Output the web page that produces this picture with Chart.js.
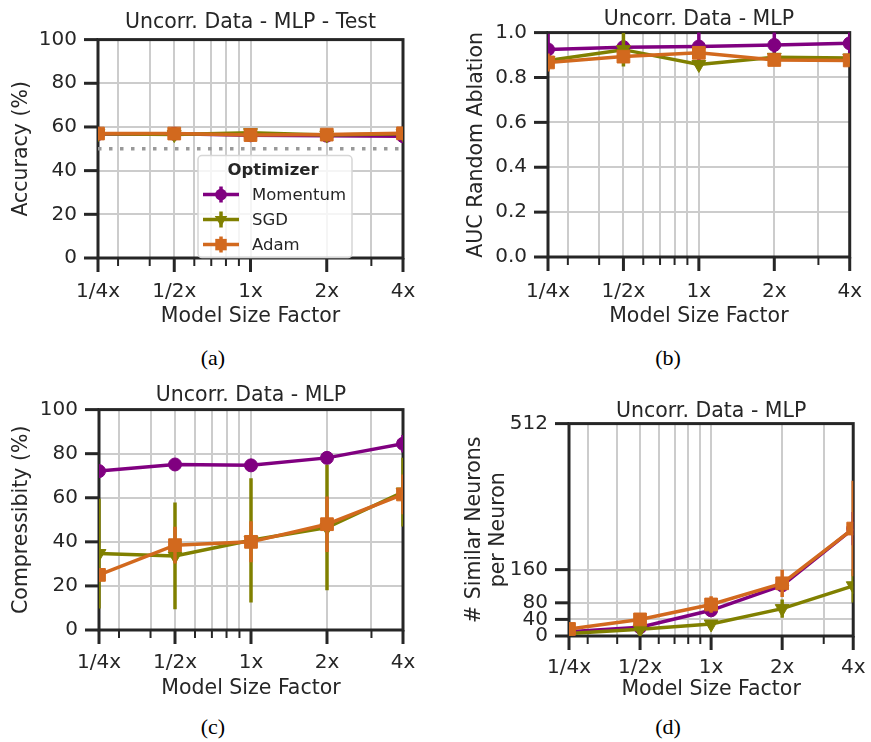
<!DOCTYPE html>
<html>
<head>
<meta charset="utf-8">
<script src="https://cdn.jsdelivr.net/npm/chart.js@4.4.0/dist/chart.umd.min.js"></script>
<style>
  body { margin: 0; background: #fff; width: 871px; height: 742px; position: relative; overflow: hidden; }
  canvas { position: absolute; }
  .cap { position: absolute; width: 100px; text-align: center; font-family: 'Liberation Serif', 'Times New Roman', serif; font-size: 22px; line-height: 22px; color: #000; }
</style>
</head>
<body>
<canvas id="chart-a" width="435" height="335" style="left:0;top:0"></canvas>
<canvas id="chart-b" width="436" height="335" style="left:435px;top:0"></canvas>
<canvas id="chart-c" width="435" height="335" style="left:0;top:370px"></canvas>
<canvas id="chart-d" width="436" height="335" style="left:435px;top:370px"></canvas>
<div class="cap" style="left:163px;top:347px">(a)</div>
<div class="cap" style="left:618px;top:347px">(b)</div>
<div class="cap" style="left:163px;top:716px">(c)</div>
<div class="cap" style="left:618px;top:716px">(d)</div>
<script>
// Model size factors (x axis, log scale)
const modelSizes = [0.25, 0.5, 1, 2, 4];
const sizeLabels = ['1/4x', '1/2x', '1x', '2x', '4x'];
const minorSizes = [0.3, 0.4, 0.6, 0.7, 0.8, 0.9, 3];

const optimizers = ['Momentum', 'SGD', 'Adam'];

// (a) test accuracy, %
const accMomentum = [56.8, 56.9, 56.2, 56.0, 55.8];
const accSGD = [56.9, 56.5, 57.4, 56.3, 56.9];
const accAdam = [57.0, 57.0, 56.3, 56.5, 57.1];
const accErrMomentum = [0.8, 0.8, 1.5, 0.8, 1.2];
const accErrSGD = [0.6, 0.8, 0.8, 0.6, 0.6];
const accErrAdam = [0.5, 0.5, 0.8, 0.6, 0.6];
const chanceLevel = [50, 50];
const accTicks = [0, 20, 40, 60, 80, 100];

// (b) AUC random ablation
const aucMomentum = [0.925, 0.935, 0.938, 0.945, 0.952];
const aucSGD = [0.876, 0.924, 0.858, 0.890, 0.887];
const aucAdam = [0.867, 0.893, 0.910, 0.878, 0.876];
const aucErrMomentum = [0.07, 0.03, 0.07, 0.07, 0.06];
const aucErrSGD = [0.02, 0.075, 0.02, 0.02, 0.02];
const aucErrAdam = [0.04, 0.02, 0.02, 0.02, 0.015];
const aucTicks = [0, 0.2, 0.4, 0.6, 0.8, 1.0];

// (c) compressibility, %
const compMomentum = [72.1, 75.1, 74.7, 78.1, 84.5];
const compSGD = [34.7, 33.6, 40.7, 46.5, 62.6];
const compAdam = [25.0, 38.5, 40.0, 48.0, 61.5];
const compErrMomentum = [1.0, 1.0, 1.0, 1.0, 4.0];
const compErrSGD = [24.9, 24.2, 28.2, 28.5, 15.6];
const compErrAdam = [3.0, 8.3, 9.3, 12.6, 9.0];
const compTicks = [0, 20, 40, 60, 80, 100];

// (d) similar neurons per neuron
const simMomentum = [10, 21, 62, 122, 259];
const simSGD = [6, 16, 29, 66, 121];
const simAdam = [17, 40, 76, 127, 259];
const simErrMomentum = [3, 4, 6, 10, 40];
const simErrSGD = [2, 3, 5, 22, 40];
const simErrAdam = [5, 6, 20, 33, 115];
const simTicks = [0, 40, 80, 160, 512];

const colors = ['#800080', '#808000', '#d2691e'];
const markers = ['circle', 'triangle', 'rect'];
const markerRadius = [6.5, 8, 9];
const markerRotation = [0, 180, 0];
const ink = '#262626';
const gridColor = '#cccccc';

Chart.defaults.font.family = "'DejaVu Sans', sans-serif";
Chart.defaults.color = ink;

function series(values, errors, i) {
    return {
        label: optimizers[i],
        data: modelSizes.map((s, k) => ({ x: s, y: values[k] })),
        errors: errors,
        borderColor: colors[i],
        backgroundColor: colors[i],
        borderWidth: 3.5,
        pointStyle: markers[i],
        pointRadius: markerRadius[i],
        pointRotation: markerRotation[i],
        pointBorderColor: colors[i],
        pointBackgroundColor: colors[i],
        pointBorderWidth: 1,
        order: 3 - i,
        clip: 0,
        tension: 0
    };
}

// Error bars: vertical lines drawn just before each series
const errorBars = {
    id: 'errorBars',
    beforeDatasetDraw(chart, args) {
        const ds = chart.data.datasets[args.index];
        if (!ds.errors) return;
        const { ctx, chartArea: a, scales: { x, y } } = chart;
        ctx.save();
        ctx.beginPath();
        ctx.rect(a.left, a.top, a.width, a.height);
        ctx.clip();
        ctx.strokeStyle = ds.borderColor;
        ctx.lineWidth = 3.5;
        ds.data.forEach((p, k) => {
            const px = x.getPixelForValue(p.x);
            ctx.beginPath();
            ctx.moveTo(px, y.getPixelForValue(p.y - ds.errors[k]));
            ctx.lineTo(px, y.getPixelForValue(p.y + ds.errors[k]));
            ctx.stroke();
        });
        ctx.restore();
    }
};

// Frame and tick marks (major/minor) like matplotlib spines
const frame = {
    id: 'frame',
    beforeDatasetsDraw(chart) {
        const { ctx, chartArea: a, scales: { x, y } } = chart;
        ctx.save();
        ctx.strokeStyle = ink;
        x.ticks.forEach(t => {
            const px = x.getPixelForValue(t.value);
            const major = modelSizes.includes(t.value);
            ctx.lineWidth = major ? 3 : 2;
            ctx.beginPath();
            ctx.moveTo(px, a.bottom);
            ctx.lineTo(px, a.bottom + (major ? 14 : 8));
            ctx.stroke();
        });
        y.ticks.forEach(t => {
            const py = y.getPixelForValue(t.value);
            ctx.lineWidth = 3;
            ctx.beginPath();
            ctx.moveTo(a.left - 14, py);
            ctx.lineTo(a.left, py);
            ctx.stroke();
        });
        ctx.lineWidth = 3;
        ctx.strokeRect(a.left, a.top, a.width, a.height);
        ctx.restore();
    }
};

// Legend box for panel (a)
function drawMarker(ctx, i, cx, cy) {
    const r = markerRadius[i] * 0.9;
    ctx.beginPath();
    if (markers[i] === 'circle') {
        ctx.arc(cx, cy, r, 0, Math.PI * 2);
    } else if (markers[i] === 'triangle') {
        ctx.moveTo(cx - r * 0.87, cy - r * 0.5);
        ctx.lineTo(cx + r * 0.87, cy - r * 0.5);
        ctx.lineTo(cx, cy + r);
        ctx.closePath();
    } else {
        const h = r * Math.SQRT1_2;
        ctx.rect(cx - h, cy - h, 2 * h, 2 * h);
    }
    ctx.fill();
}

const optimizerLegend = {
    id: 'optimizerLegend',
    afterDraw(chart) {
        const { ctx, chartArea: a } = chart;
        const left = a.left + 100, top = a.top + 116, w = 154, h = 102;
        ctx.save();
        ctx.fillStyle = 'rgba(255,255,255,0.8)';
        ctx.strokeStyle = '#d6d6d6';
        ctx.lineWidth = 1.5;
        ctx.beginPath();
        ctx.roundRect(left, top, w, h, 4);
        ctx.fill();
        ctx.stroke();
        ctx.fillStyle = ink;
        ctx.textBaseline = 'middle';
        ctx.textAlign = 'center';
        ctx.font = "bold 16.5px 'DejaVu Sans'";
        ctx.fillText('Optimizer', left + 75, top + 15);
        ctx.textAlign = 'left';
        ctx.font = "16.5px 'DejaVu Sans'";
        optimizers.forEach((name, i) => {
            const cy = top + 39 + i * 25;
            ctx.strokeStyle = colors[i];
            ctx.fillStyle = colors[i];
            ctx.lineWidth = 3.5;
            ctx.beginPath();
            ctx.moveTo(left + 5, cy);
            ctx.lineTo(left + 41, cy);
            ctx.moveTo(left + 23, cy - 8);
            ctx.lineTo(left + 23, cy + 8);
            ctx.stroke();
            drawMarker(ctx, i, left + 23, cy);
            ctx.fillStyle = ink;
            ctx.fillText(name, left + 54, cy + 1);
        });
        ctx.restore();
    }
};

function makePanel(id, opts) {
    const datasets = [
        series(opts.values[0], opts.errors[0], 0),
        series(opts.values[1], opts.errors[1], 1),
        series(opts.values[2], opts.errors[2], 2)
    ];
    if (opts.extra) datasets.push(opts.extra);
    const g = opts.geom;
    return new Chart(document.getElementById(id), {
        type: 'line',
        data: { datasets: datasets },
        options: {
            responsive: false,
            animation: false,
            devicePixelRatio: 1,
            events: [],
            layout: { padding: { left: 0, right: g.padRight, top: 0, bottom: 0 } },
            plugins: {
                legend: { display: false },
                tooltip: { enabled: false },
                title: {
                    display: true,
                    text: opts.title,
                    fullSize: false,
                    color: ink,
                    font: { size: 20.5, weight: 'normal' },
                    padding: g.titlePad
                }
            },
            scales: {
                x: {
                    type: 'logarithmic',
                    min: modelSizes[0],
                    max: modelSizes[modelSizes.length - 1],
                    afterBuildTicks: s => {
                        s.ticks = modelSizes.concat(minorSizes).sort((p, q) => p - q).map(v => ({ value: v }));
                    },
                    afterFit: s => { s.height = g.xHeight; },
                    ticks: {
                        autoSkip: false,
                        maxRotation: 0,
                        padding: g.xTickPad,
                        color: ink,
                        font: { size: 20 },
                        callback: v => {
                            const k = modelSizes.indexOf(v);
                            return k >= 0 ? sizeLabels[k] : '';
                        }
                    },
                    grid: { color: gridColor, lineWidth: 2, tickLength: 14, tickColor: 'rgba(0,0,0,0)' },
                    border: { display: false },
                    title: {
                        display: true,
                        text: 'Model Size Factor',
                        color: ink,
                        font: { size: 20.5 },
                        padding: { top: 0, bottom: g.xTitlePad }
                    }
                },
                y: {
                    type: 'linear',
                    min: opts.yTicks[0],
                    max: opts.yTicks[opts.yTicks.length - 1],
                    afterBuildTicks: s => { s.ticks = opts.yTicks.map(v => ({ value: v })); },
                    afterFit: s => { s.width = g.yWidth; },
                    ticks: {
                        padding: 7,
                        color: ink,
                        font: { size: 20 },
                        callback: opts.yFormat
                    },
                    grid: { color: gridColor, lineWidth: 2, tickLength: 14, tickColor: 'rgba(0,0,0,0)' },
                    border: { display: false },
                    title: {
                        display: true,
                        text: opts.yTitle,
                        color: ink,
                        font: { size: 20.5 },
                        padding: { top: g.yTitlePad, bottom: 0 }
                    }
                }
            }
        },
        plugins: [frame, errorBars].concat(opts.plugins || [])
    });
}

makePanel('chart-a', {
    title: 'Uncorr. Data - MLP - Test',
    yTitle: 'Accuracy (%)',
    yTicks: accTicks,
    yFormat: v => String(v),
    values: [accMomentum, accSGD, accAdam],
    errors: [accErrMomentum, accErrSGD, accErrAdam],
    extra: {
        label: 'chance',
        data: [modelSizes[0], modelSizes[modelSizes.length - 1]].map((s, k) => ({ x: s, y: chanceLevel[k] })),
        borderColor: '#999999',
        borderWidth: 3.5,
        borderDash: [3.5, 7.5],
        pointRadius: 0,
        order: 4,
        clip: 0
    },
    plugins: [optimizerLegend],
    geom: { padRight: 32, yWidth: 98, xHeight: 77, titlePad: { top: 10, bottom: 5 }, yTitlePad: 9, xTickPad: 8, xTitlePad: 6 }
});

makePanel('chart-b', {
    title: 'Uncorr. Data - MLP',
    yTitle: 'AUC Random Ablation',
    yTicks: aucTicks,
    yFormat: v => v.toFixed(1),
    values: [aucMomentum, aucSGD, aucAdam],
    errors: [aucErrMomentum, aucErrSGD, aucErrAdam],
    geom: { padRight: 14, yWidth: 113, xHeight: 78, titlePad: { top: 7.5, bottom: 0.5 }, yTitlePad: 29, xTickPad: 9, xTitlePad: 6 }
});

makePanel('chart-c', {
    title: 'Uncorr. Data - MLP',
    yTitle: 'Compressibity (%)',
    yTicks: compTicks,
    yFormat: v => String(v),
    values: [compMomentum, compSGD, compAdam],
    errors: [compErrMomentum, compErrSGD, compErrAdam],
    geom: { padRight: 32, yWidth: 99, xHeight: 75, titlePad: { top: 13, bottom: 2 }, yTitlePad: 9, xTickPad: 7, xTitlePad: 4 }
});

makePanel('chart-d', {
    title: 'Uncorr. Data - MLP',
    yTitle: ['# Similar Neurons', 'per Neuron'],
    yTicks: simTicks,
    yFormat: v => String(v),
    values: [simMomentum, simSGD, simAdam],
    errors: [simErrMomentum, simErrSGD, simErrAdam],
    geom: { padRight: 12, yWidth: 134, xHeight: 69, titlePad: { top: 29, bottom: 0 }, yTitlePad: 27, xTickPad: 5.5, xTitlePad: 3 }
});
</script>
</body>
</html>
